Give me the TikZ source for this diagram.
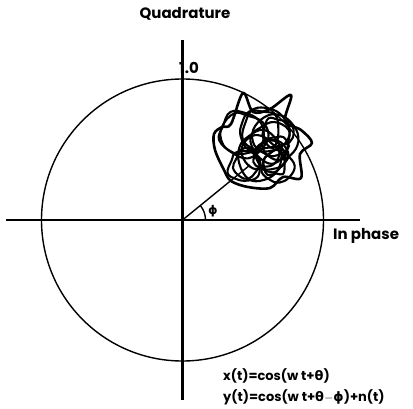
\documentclass[tikz,border=0pt]{standalone}
\usepackage{fontspec}
\setmainfont{Poppins}
\newfontfamily\grkfont{DejaVu Sans}
\usetikzlibrary{positioning}

\begin{document}
\begin{tikzpicture}[x=1pt, y=-1pt,
  axis/.style={line width=2.3pt},
  ring/.style={line width=1.4pt},
  ray/.style={line width=1.4pt},
  scribble/.style={line width=2.6pt, line join=round, line cap=round},
  lbl/.style={font=\fontsize{15}{16}\selectfont\bfseries, inner sep=0pt},
  eqn/.style={font=\fontsize{13}{16}\selectfont\bfseries, inner sep=0pt, anchor=west}]
  \useasboundingbox (0,0) rectangle (413,408);
  % axes and unit circle
  \coordinate (O) at (182.5,220);
  \coordinate (xl) at (6,220);
  \coordinate (xr) at (360,220);
  \coordinate (yt) at (182.5,40);
  \coordinate (yb) at (182.5,400);
  \coordinate (tip) at (250,165);
  \draw[ring] (O) circle[radius=141];
  \draw[axis] (xl) -- (xr);
  \draw[axis] (yt) -- (yb);
  \draw[ray] (O) -- (tip);
  \draw[ray] (O) ++(23,0) arc[start angle=0, end angle=-39, radius=23];
  % noisy signal
  \draw[scribble] plot[smooth cycle, tension=0.55] coordinates {(231,124) (243,93) (253,112) (270,109) (291,95) (285,121) (301,130) (312,143) (300,154) (301,178) (283,177) (270,188) (248,187) (231,181) (224,170) (215,150) (214,134) (222,127)};
  \pgfmathsetseed{17}
  \foreach \i in {1,...,16} {
    \pgfmathsetmacro\cx{258+40*(rnd-0.5)}
    \pgfmathsetmacro\cy{148+40*(rnd-0.5)}
    \pgfmathsetmacro\r{11+13*rnd}
    \draw[scribble, line width=2.1pt] plot[smooth cycle, tension=0.7, samples=9, domain=0:320]
      ({\cx+(\r+6*(rnd-0.5))*cos(\x)}, {\cy+(\r+6*(rnd-0.5))*sin(\x)});
  }
  % labels
  \node[lbl] (quad) at (185,14) {Quadrature};
  \node[lbl, anchor=west] (unit) at (179,68) {1.0};
  \node[lbl, anchor=west] (inph) at (333,236) {In phase};
  \node[lbl, font=\grkfont\fontsize{12}{12}\selectfont\bfseries] (phi) at (213,211) {ϕ};
  \node[eqn] (xeq) at (223,376) {x(t)=cos(w t+{\grkfont θ})};
  \node[eqn] (yeq) at (223,397) {y(t)=cos(w t+{\grkfont θ}$-${\grkfont ϕ})+n(t)};
\end{tikzpicture}
\end{document}
